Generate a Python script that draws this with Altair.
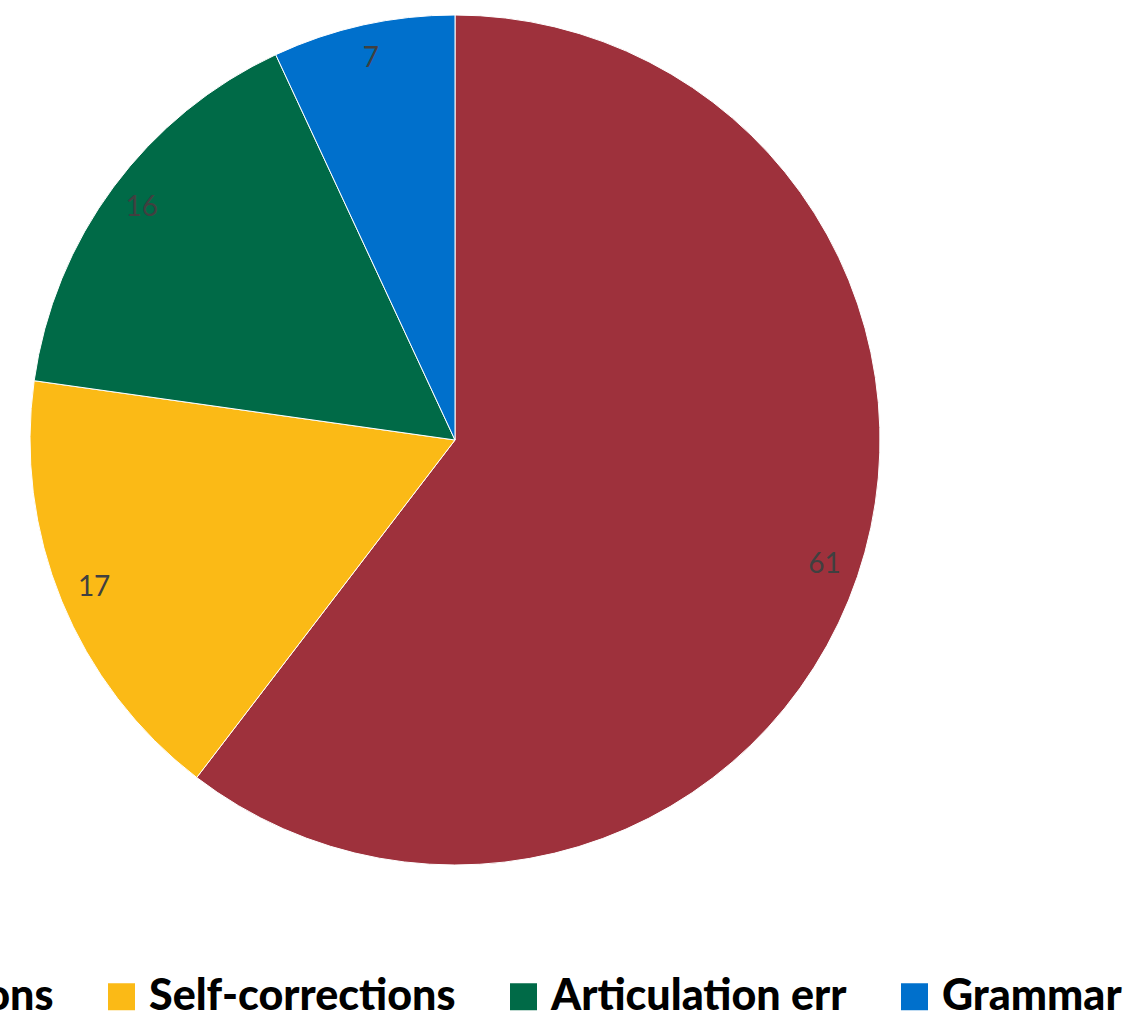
import altair as alt
import pandas as pd

categories = ["Repetitions", "Self-corrections", "Articulation err", "Grammar"]
values = [61, 17, 16, 7]
colors = ["#9E313C", "#FBBA16", "#006A47", "#0070CC"]

df = pd.DataFrame({"cat": categories, "val": values, "idx": list(range(len(categories)))})

base = alt.Chart(df).encode(
    theta=alt.Theta("val:Q", stack=True),
    order=alt.Order("idx:Q"),
)

pie = base.mark_arc(outerRadius=425, stroke="white", strokeWidth=1).encode(
    x=alt.value(455),
    y=alt.value(440),
    color=alt.Color(
        "cat:N",
        sort=categories,
        scale=alt.Scale(domain=categories, range=colors),
        legend=alt.Legend(
            title=None,
            orient="none",
            direction="horizontal",
            legendX=-217,
            legendY=975,
            symbolType="square",
            symbolSize=729,
            symbolStrokeWidth=0,
            labelFont="Lato",
            labelFontSize=43,
            labelFontWeight=900,
            labelColor="black",
            labelOffset=6,
            columnPadding=46,
            labelLimit=1000,
        ),
    ),
)

labels = base.mark_text(radius=390, font="Lato", fontSize=28, color="#404040").encode(
    x=alt.value(455),
    y=alt.value(440),
    text=alt.Text("val:Q"),
)

chart = (
    alt.layer(pie, labels)
    .properties(width=1137, height=1016, padding=0, autosize="none")
    .configure_view(strokeWidth=0)
)

chart.save("out.html", embed_options={"renderer": "svg", "actions": False})
